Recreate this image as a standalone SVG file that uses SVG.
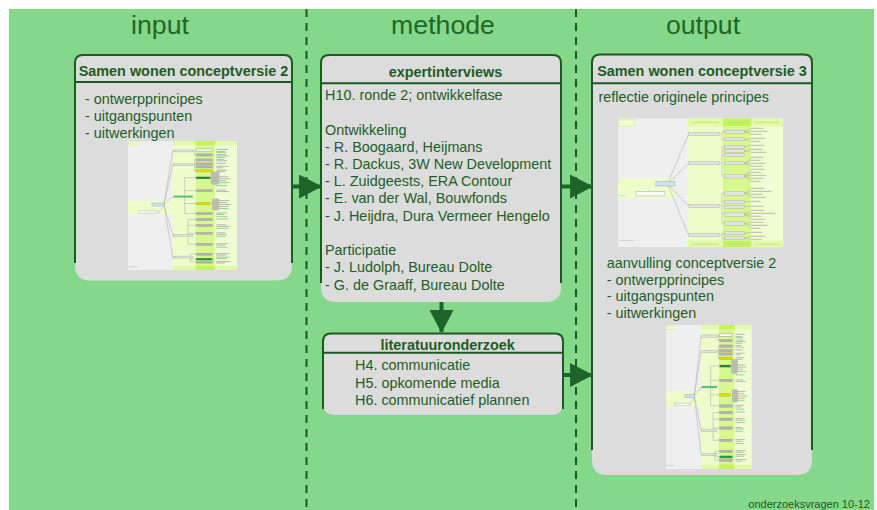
<svg xmlns="http://www.w3.org/2000/svg" xmlns:xlink="http://www.w3.org/1999/xlink" width="877" height="510" viewBox="0 0 877 510">
  <style>
    .t { font-family: "Liberation Sans", Arial, Helvetica, sans-serif; font-size: 14.4px; fill: #1d5e24; }
    .tb { font-weight: bold; text-anchor: middle; }
    .hd { font-size: 26.7px; text-anchor: middle; fill: #1f6828; }
    .sm { font-size: 11px; fill: #1d5e24; }
    .fill { fill: #dcdcdc; }
    .edge { fill: none; stroke: #1b5a20; stroke-width: 2; }
    .sep { fill: none; stroke: #1b5a20; stroke-width: 2; stroke-dasharray: 8 6; }
    .arrow { fill: none; stroke: #1e6428; stroke-width: 4; }
    .thl { fill: none; stroke: #b4b4b4; stroke-width: 0.6; }
    .tnode { fill: #e2e2e2; stroke: #a8a8a8; stroke-width: 0.4; }
    .tbar { fill: #b4b4b4; stroke: #939393; stroke-width: 0.3; }
    .ttxt { fill: none; stroke: #a8a8a8; stroke-width: 0.8; }
    .tgrn { fill: none; stroke: #74cf84; stroke-width: 0.8; }
  </style>
  <defs>
    <marker id="head" markerUnits="userSpaceOnUse" markerWidth="24" markerHeight="24" viewBox="0 0 22 23" refX="21" refY="11.5" orient="auto">
      <path d="M0 0 L22 11.5 L0 23 Z" fill="#1e6428"/>
    </marker>

    <!-- mind map thumbnail, concept version 2 -->
    <symbol id="mm2" viewBox="0 0 100 130" preserveAspectRatio="none">
      <rect width="100" height="130" fill="#efefef"/>
      <rect x="41" width="21" height="130" fill="#eefcca"/>
      <rect x="62" width="18" height="130" fill="#d6f88f"/>
      <rect x="80" width="20" height="130" fill="#f0fdd3"/>
      <rect x="41" width="59" height="4" fill="#e0faa8"/>
      <rect x="62" width="18" height="4" fill="#c4f25c"/>
      <rect x="41" y="126" width="59" height="4" fill="#e0faa8"/>
      <rect x="62" y="126" width="18" height="4" fill="#c4f25c"/>
      <rect y="60" width="41" height="14" fill="#eefcca"/>
      <rect x="1" y="1" width="9" height="3" fill="#f4ffd6" stroke="#cdef88" stroke-width="0.6"/>
      <rect x="1" y="126.5" width="8" height="0.8" fill="#c8c8c8"/>
      <path class="thl" d="M33 64 L41 10 M33 64 L41 24 M33 64 L41 56 M33 64 L41 95 M33 64 L41 117 M28 72 L33 65"/>
      <path class="thl" d="M59.5 10 H61 M61 9 V14 M61 9 H62.5 M61 14 H62.5 M59.5 24 H61 M61 19 V30 M61 19 H62.5 M61 23 H62.5 M61 26 H62.5 M61 30 H62.5 M59.5 56 H52 M52 37 V73 M52 37 H62.5 M52 50 H62.5 M52 63 H62.5 M52 73 H62.5 M59.5 95 H55 M55 79 V104 M55 79 H62.5 M55 85 H62.5 M55 93 H62.5 M55 104 H62.5 M59.5 117 H57 M57 114 V122 M57 114 H62.5 M57 119 H62.5 M57 122 H62.5"/>
      <rect x="22" y="62.5" width="11" height="3" fill="#cfe0f5" stroke="#8fa8c8" stroke-width="0.4"/>
      <rect x="10" y="70.5" width="18" height="2.5" fill="#f7f7f7" stroke="#a8a8a8" stroke-width="0.4"/>
      <rect class="tnode" x="41.5" y="9" width="18" height="2"/>
      <rect class="tnode" x="41.5" y="23" width="18" height="2"/>
      <rect x="41.5" y="55" width="18" height="2" fill="#5fbf7a"/>
      <rect class="tnode" x="41.5" y="94" width="18" height="2"/>
      <rect class="tnode" x="41.5" y="116" width="18" height="2"/>
      <rect x="76" y="31" width="8" height="13" rx="2" fill="#bcbcae"/>
      <rect x="77" y="58" width="7" height="12" rx="2" fill="#bcbcae"/>
      <rect x="62.5" y="8" width="15" height="2.2" fill="#fafafa" stroke="#8a8a8a" stroke-width="0.4"/>
      <rect class="tbar" x="62.5" y="13" width="15" height="2.2"/>
      <rect class="tbar" x="62.5" y="18" width="15" height="2.2"/>
      <rect class="tbar" x="62.5" y="22" width="15" height="2.2"/>
      <rect class="tbar" x="62.5" y="25" width="15" height="2.2"/>
      <rect x="62.5" y="29" width="15" height="2.2" fill="#e6dc00" stroke="#a09a00" stroke-width="0.3"/>
      <rect x="62.5" y="36" width="13" height="2.2" fill="#2f7d3c"/>
      <rect class="tbar" x="62.5" y="49" width="15" height="2.2"/>
      <rect x="62.5" y="62" width="13" height="2.2" fill="#e6dc00" stroke="#a09a00" stroke-width="0.3"/>
      <rect class="tbar" x="62.5" y="72" width="15" height="2.2"/>
      <rect class="tbar" x="62.5" y="78" width="15" height="2.2"/>
      <rect class="tbar" x="62.5" y="84" width="15" height="2.2"/>
      <rect class="tbar" x="62.5" y="92" width="15" height="2.2"/>
      <rect class="tbar" x="62.5" y="103" width="15" height="2.2"/>
      <rect class="tbar" x="62.5" y="113" width="15" height="2.2"/>
      <rect x="62.5" y="118" width="15" height="2.2" fill="#1f9a40"/>
      <rect class="tbar" x="62.5" y="121" width="15" height="2.2"/>
      <path class="ttxt" d="M81 8.5h11 M81 10.5h8 M81 13.5h9 M81 15h12 M81 18.5h7 M81 20h10 M81 22.5h9 M81 25.5h11 M81 27h6 M81 29.5h10 M81 31h8 M84 36h8 M84 38h10 M84 40h6 M81 49.5h9 M81 51h12 M84 60h9 M84 62h7 M84 64h11 M84 66h8 M81 72.5h10 M81 74h7 M81 78.5h11 M81 84.5h9 M81 86h12 M81 92.5h8 M81 94h10 M81 103.5h11 M81 105h8 M81 113.5h12 M81 115h9 M81 118.5h10 M81 121.5h13 M81 123h8"/>
      <path class="tgrn" d="M81 11.5h9 M81 16.5h8 M84 42h9 M81 45h10 M84 68h8 M81 76h10 M81 88h11 M81 96h9 M81 107h10 M81 117h12"/>
    </symbol>

    <!-- mind map thumbnail, concept version 3 -->
    <symbol id="mm3" viewBox="0 0 166 129" preserveAspectRatio="none">
      <rect width="166" height="129" fill="#efefef"/>
      <rect x="70" width="35.6" height="129" fill="#eefcca"/>
      <rect x="105.6" width="28.4" height="129" fill="#d6f88f"/>
      <rect x="134" width="32" height="129" fill="#f0fdd3"/>
      <rect x="70" width="96" height="7.7" fill="#e0faa8"/>
      <rect x="105.6" width="28.4" height="7.7" fill="#c4f25c"/>
      <rect x="70" y="122.4" width="96" height="6.6" fill="#e0faa8"/>
      <rect x="105.6" y="122.4" width="28.4" height="6.6" fill="#c4f25c"/>
      <path d="M74 4h28 M110 4h20 M138 4h24 M74 126h28 M110 126h20 M138 126h24" fill="none" stroke="#b9e47a" stroke-width="0.8"/>
      <rect y="60" width="57" height="20" fill="#eefcca"/>
      <rect x="0.6" y="1.7" width="16" height="6" fill="#f4ffd6" stroke="#cdef88" stroke-width="0.7"/>
      <rect x="2" y="77" width="6" height="0.8" fill="#c8d8a0"/>
      <rect x="2" y="122" width="14" height="0.8" fill="#c8c8c8"/>
      <path class="thl" d="M50 65.5 L71 15.7 M50 65.5 L71 45 M50 65.5 L71 87.7 M50 65.5 L71 116.7"/>
      <path class="thl" d="M102 15.7 H104.5 M104.5 13.4 V21 M104.5 13.4 H107 M104.5 21 H107 M102 45 H104.5 M104.5 28.4 V57.7 M104.5 28.4 H107 M104.5 32.7 H107 M104.5 36.7 H107 M104.5 57.7 H107 M102 87.7 H104.5 M104.5 75 V105 M104.5 75 H107 M104.5 83.4 H107 M104.5 96 H107 M104.5 105 H107 M102 116.7 H104.5 M104.5 115 V120 M104.5 115 H107 M104.5 120 H107"/>
      <rect x="38.3" y="63.4" width="19" height="4.3" fill="#cfe0f5" stroke="#8fa8c8" stroke-width="0.5"/>
      <rect x="18.3" y="73.4" width="29" height="4.3" fill="#fafafa" stroke="#a8a8a8" stroke-width="0.5"/>
      <rect class="tnode" x="71" y="14.2" width="31" height="3"/>
      <rect class="tnode" x="71" y="43.5" width="31" height="3"/>
      <rect class="tnode" x="71" y="86.2" width="31" height="3"/>
      <rect class="tnode" x="71" y="115.2" width="31" height="3"/>
      <rect class="tnode" x="107" y="11.9" width="20" height="3.5"/>
      <rect class="tnode" x="107" y="19.5" width="20" height="3"/>
      <rect class="tnode" x="107" y="26.9" width="20" height="3"/>
      <rect class="tnode" x="107" y="31.2" width="20" height="3"/>
      <rect class="tnode" x="107" y="35.2" width="20" height="3"/>
      <rect class="tnode" x="107" y="43.5" width="20" height="3"/>
      <rect class="tnode" x="107" y="56.2" width="20" height="3.5"/>
      <rect class="tnode" x="107" y="73.5" width="20" height="3.5"/>
      <rect class="tnode" x="107" y="81.9" width="20" height="3"/>
      <rect class="tnode" x="107" y="86.9" width="20" height="3"/>
      <rect class="tnode" x="107" y="94.5" width="20" height="3.5"/>
      <rect class="tnode" x="107" y="103.5" width="20" height="3.5"/>
      <rect class="tnode" x="107" y="113.5" width="20" height="3"/>
      <rect class="tnode" x="107" y="118.5" width="20" height="3"/>
      <path class="thl" d="M127 13.4 L134 10 M127 13.4 L134 13 M127 13.4 L134 16 M127 21 L134 20 M127 21 L134 23 M127 28.4 L134 27 M127 32.7 L134 31 M127 32.7 L134 34 M127 45 L134 39 M127 45 L134 42 M127 45 L134 45 M127 45 L134 48 M127 57.7 L134 51 M127 57.7 L134 54 M127 57.7 L134 57 M127 57.7 L134 60 M127 57.7 L134 63 M127 75 L134 70 M127 75 L134 73 M127 75 L134 76 M127 75 L134 79 M127 83.4 L134 83 M127 88.4 L134 88 M127 96 L134 92 M127 96 L134 95 M127 96 L134 98 M127 96 L134 101 M127 105 L134 104 M127 105 L134 107 M127 105 L134 110 M127 115 L134 114 M127 120 L134 118 M127 120 L134 121"/>
      <path class="ttxt" d="M134 10h12 M134 13h16 M134 16h10 M134 20h14 M134 23h9 M134 27h13 M134 31h11 M134 34h15 M134 39h12 M134 42h9 M134 45h14 M134 48h11 M134 51h13 M134 54h10 M134 57h15 M134 60h12 M134 63h9 M134 70h13 M134 73h20 M134 76h11 M134 79h14 M134 83h9 M134 88h12 M134 92h13 M134 95h24 M134 98h10 M134 101h14 M134 104h12 M134 107h16 M134 110h9 M134 114h11 M134 118h14 M134 121h10"/>
    </symbol>
  </defs>

  <!-- backdrop -->
  <rect x="9" y="9" width="865" height="501" fill="#85d789"/>

  <!-- column separators -->
  <g id="separators">
    <line class="sep" x1="306.5" y1="9" x2="306.5" y2="510"/>
    <line class="sep" x1="576" y1="9" x2="576" y2="510"/>
  </g>

  <!-- column headings -->
  <g id="headings">
    <text class="t hd" x="160" y="34">input</text>
    <text class="t hd" x="443" y="34">methode</text>
    <text class="t hd" x="703" y="34">output</text>
  </g>

  <!-- input -->
  <g id="node-input">
    <path class="fill" d="M75 63 Q75 55 83 55 H284 Q292 55 292 63 V265 Q292 280.5 277 280.5 H90 Q75 280.5 75 265 Z"/>
    <path class="edge" d="M75 263 V63 Q75 55 83 55 H284 Q292 55 292 63 V263"/>
    <line class="edge" x1="75" y1="82" x2="292" y2="82"/>
    <text class="t tb" x="183.5" y="76">Samen wonen conceptversie 2</text>
    <text class="t" x="85" y="103.5">- ontwerpprincipes</text>
    <text class="t" x="85" y="120.5">- uitgangspunten</text>
    <text class="t" x="85" y="137.5">- uitwerkingen</text>
    <use xlink:href="#mm2" x="128" y="141" width="109" height="129"/>
  </g>

  <!-- expert interviews -->
  <g id="node-expertinterviews">
    <path class="fill" d="M321 63 Q321 55 329 55 H553 Q561 55 561 63 V287 Q561 302 546 302 H336 Q321 302 321 287 Z"/>
    <path class="edge" d="M321 283 V63 Q321 55 329 55 H553 Q561 55 561 63 V283"/>
    <line class="edge" x1="321" y1="83.3" x2="561" y2="83.3"/>
    <text class="t tb" x="445.5" y="77">expertinterviews</text>
    <text class="t" x="325" y="100">H10. ronde 2; ontwikkelfase</text>
    <text class="t" x="325" y="134.5">Ontwikkeling</text>
    <text class="t" x="325" y="151.7">- R. Boogaard, Heijmans</text>
    <text class="t" x="325" y="168.9">- R. Dackus, 3W New Development</text>
    <text class="t" x="325" y="186.1">- L. Zuidgeests, ERA Contour</text>
    <text class="t" x="325" y="203.3">- E. van der Wal, Bouwfonds</text>
    <text class="t" x="325" y="220.5">- J. Heijdra, Dura Vermeer Hengelo</text>
    <text class="t" x="325" y="255">Participatie</text>
    <text class="t" x="325" y="272.3">- J. Ludolph, Bureau Dolte</text>
    <text class="t" x="325" y="289.5">- G. de Graaff, Bureau Dolte</text>
  </g>

  <!-- output -->
  <g id="node-output">
    <path class="fill" d="M592 62.5 Q592 54.5 600 54.5 H804 Q812 54.5 812 62.5 V460 Q812 475 797 475 H607 Q592 475 592 460 Z"/>
    <path class="edge" d="M592 450 V62.5 Q592 54.5 600 54.5 H804 Q812 54.5 812 62.5 V450"/>
    <line class="edge" x1="592" y1="83.3" x2="812" y2="83.3"/>
    <text class="t tb" x="702" y="76">Samen wonen conceptversie 3</text>
    <text class="t" x="598.5" y="102">reflectie originele principes</text>
    <use xlink:href="#mm3" x="617.7" y="118.3" width="165.6" height="129"/>
    <text class="t" x="606.7" y="267.7">aanvulling conceptversie 2</text>
    <text class="t" x="606.7" y="284.5">- ontwerpprincipes</text>
    <text class="t" x="606.7" y="301.3">- uitgangspunten</text>
    <text class="t" x="606.7" y="318">- uitwerkingen</text>
    <use xlink:href="#mm2" x="666" y="325" width="85.7" height="144"/>
  </g>

  <!-- literature study -->
  <g id="node-literatuuronderzoek">
    <path class="fill" d="M323 341.5 Q323 333.5 331 333.5 H555 Q563 333.5 563 341.5 V403 Q563 415 551 415 H335 Q323 415 323 403 Z"/>
    <path class="edge" d="M323 409 V341.5 Q323 333.5 331 333.5 H555 Q563 333.5 563 341.5 V409"/>
    <line class="edge" x1="323" y1="352.7" x2="563" y2="352.7"/>
    <text class="t tb" x="447.7" y="349.5">literatuuronderzoek</text>
    <text class="t" x="355" y="370">H4. communicatie</text>
    <text class="t" x="355" y="387.5">H5. opkomende media</text>
    <text class="t" x="355" y="405">H6. communicatief plannen</text>
  </g>

  <!-- connectors -->
  <g id="connectors">
    <line class="arrow" x1="292" y1="186.5" x2="321" y2="186.5" marker-end="url(#head)"/>
    <line class="arrow" x1="561" y1="186.5" x2="592" y2="186.5" marker-end="url(#head)"/>
    <line class="arrow" x1="563" y1="375" x2="592" y2="375" marker-end="url(#head)"/>
    <line class="arrow" x1="441.5" y1="302" x2="441.5" y2="332" marker-end="url(#head)"/>
  </g>

  <text class="t sm" x="870" y="508" text-anchor="end">onderzoeksvragen 10-12</text>
</svg>
